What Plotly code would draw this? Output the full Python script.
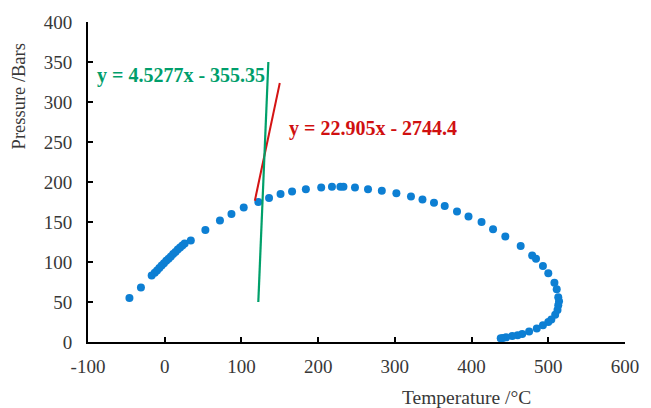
import plotly.graph_objects as go

# Phase envelope: temperature (°C) and pressure (bar)
temperature = [-46, -31, -17, -13, -10, -7, -4, -1, 2, 5, 8, 11, 14, 17, 20, 23, 26,
               34, 53, 72, 87, 103, 122, 136, 151, 166, 184, 204, 218, 229, 233,
               248, 265, 283, 302, 321, 336, 351, 365, 381, 396, 413, 428, 444,
               464, 479, 484, 493, 500, 508, 511, 513, 514, 513, 512, 509, 504,
               500, 493, 485, 475, 466, 460, 453, 445, 441, 438]
pressure = [55, 68, 83, 86.5, 89.5, 92.5, 95.5, 98.5, 101.5, 104, 107, 110, 112.5,
            115.5, 118, 120.5, 123, 127, 140, 152, 160, 168, 175, 180, 185, 188,
            191, 193, 194, 194, 194, 193, 191, 189, 186, 182, 178, 174, 170, 163,
            157, 150, 141, 132, 120, 108, 104, 95, 86, 74, 66, 56, 51, 46, 40,
            34, 28, 25, 21, 17, 13, 10, 8.4, 7.5, 5.8, 5, 4.6]

# Tangent fits: P = a*T + b
red_fit = (4.5277, -355.35)
red_T_range = [117.5, 150]
green_fit = (22.905, -2744.4)
green_P_range = [50, 350]

red_label = "y = 4.5277x - 355.35"
green_label = "y = 22.905x - 2744.4"

x_ticks = [-100, 0, 100, 200, 300, 400, 500, 600]
x_tick_text = ["-100", "0", "100", "200", "300", "400", "500", "600"]
y_ticks = [0, 50, 100, 150, 200, 250, 300, 350, 400]

serif = "Liberation Serif, Times New Roman, serif"
text_col = "#383838"

red_T = red_T_range
red_P = [red_fit[0] * t + red_fit[1] for t in red_T]
green_P = green_P_range
green_T = [(p - green_fit[1]) / green_fit[0] for p in green_P]

fig = go.Figure()
fig.add_trace(go.Scatter(x=temperature, y=pressure, mode="markers",
                         marker=dict(size=8, color="#0d7fd3"), showlegend=False))
fig.add_trace(go.Scatter(x=red_T, y=red_P, mode="lines",
                         line=dict(color="#d41414", width=2), showlegend=False))
fig.add_trace(go.Scatter(x=green_T, y=green_P, mode="lines",
                         line=dict(color="#00a06a", width=2.2), showlegend=False))

fig.add_annotation(x=-91, y=333, text="<b>" + red_label + "</b>", showarrow=False,
                   xanchor="left", yanchor="middle",
                   font=dict(family=serif, size=20, color="#009e6b"))
fig.add_annotation(x=160, y=267, text="<b>" + green_label + "</b>", showarrow=False,
                   xanchor="left", yanchor="middle",
                   font=dict(family=serif, size=20, color="#d01010"))

# Axis titles
fig.add_annotation(xref="paper", yref="paper", x=(18 - 88) / 542, y=(342 - 96) / 321,
                   text="Pressure /Bars", textangle=-90, showarrow=False,
                   xanchor="center", yanchor="middle",
                   font=dict(family=serif, size=18.5, color=text_col))
fig.add_annotation(xref="paper", yref="paper", x=(470 - 88) / 542, y=-(398 - 342) / 321,
                   text="Temperature /°C", showarrow=False,
                   xanchor="center", yanchor="middle",
                   font=dict(family=serif, size=19.5, color=text_col))

axis_common = dict(showgrid=False, zeroline=False, showline=True, linecolor="black",
                   linewidth=2, ticks="inside", ticklen=5, tickwidth=1.5,
                   tickcolor="black", tickfont=dict(family=serif, size=19, color=text_col))

fig.update_xaxes(range=[-100, 600], tickvals=x_ticks, ticktext=x_tick_text,
                 ticklabelstandoff=6, **axis_common)
fig.update_yaxes(range=[0, 400], tickvals=y_ticks, ticklabelstandoff=10, **axis_common)

fig.update_layout(width=651, height=408, margin=dict(l=88, r=21, t=21, b=66),
                  plot_bgcolor="white", paper_bgcolor="white")

fig.write_html("out.html")
